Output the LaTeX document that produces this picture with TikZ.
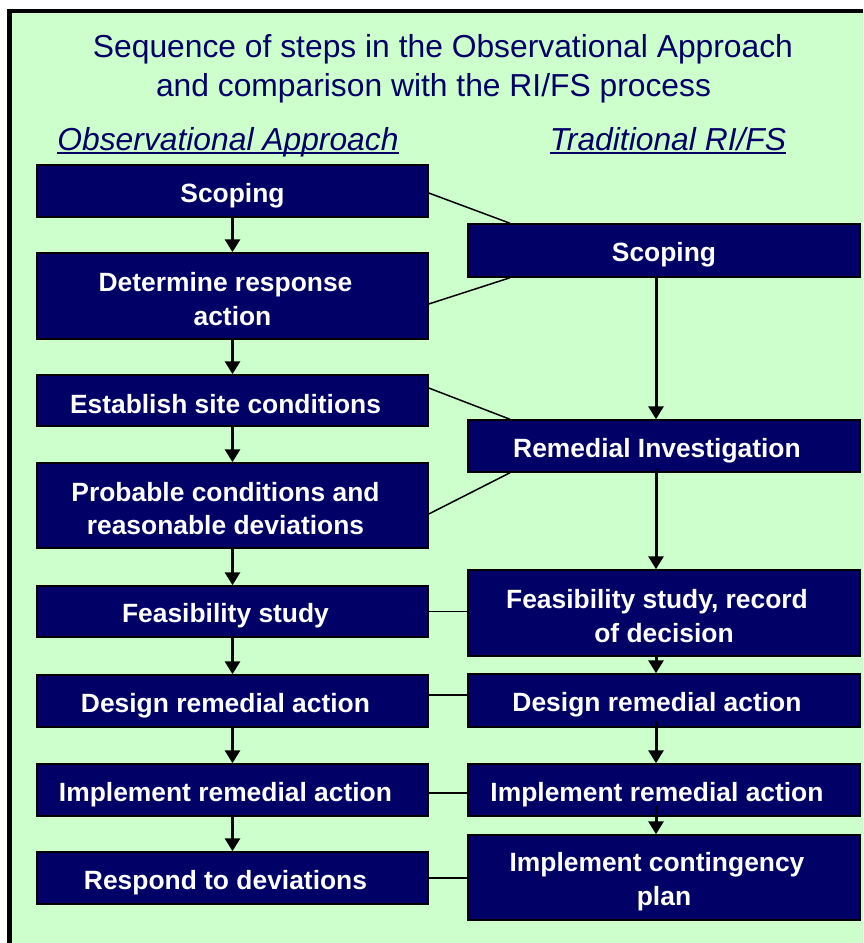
\documentclass[tikz,border=0pt]{standalone}
\usepackage{fontspec}
\setmainfont{Liberation Sans}
\usetikzlibrary{arrows.meta}

\definecolor{navy}{RGB}{0,0,102}
\definecolor{panel}{RGB}{204,255,204}
\newcommand{\boxstrut}{\rule[-0.1em]{0pt}{1.15em}}
\newcommand{\tallstrut}{\rule[-0.1em]{0pt}{63.6pt}}
\newcommand{\trail}{\hspace*{14pt}}

\begin{document}
\begin{tikzpicture}[x=1pt, y=-1pt]
  \tikzstyle{stepbox}=[draw=black, line width=1.5pt, fill=navy, text=white, inner sep=0pt,
                       align=center, font=\fontsize{26.4}{33.5}\selectfont\bfseries,
                       execute at begin node=\boxstrut, execute at end node=\boxstrut]
  \tikzstyle{two lines}=[execute at begin node=\tallstrut]
  \tikzstyle{left col}=[stepbox, minimum width=391pt]
  \tikzstyle{right col}=[stepbox, minimum width=392pt]
  \tikzstyle{flow}=[line width=3pt, -{Triangle[width=15pt,length=13pt]}]
  \tikzstyle{link}=[line width=1.5pt]
  \tikzstyle{heading}=[text=navy, inner sep=0pt, font=\fontsize{31.8}{39}\selectfont]
  \tikzstyle{rule}=[navy, line width=2pt]

  \useasboundingbox (0,0) rectangle (863,943);
  \fill[white] (0,0) rectangle (863,943);
  \fill[black] (7,9) rectangle (863,943);
  \fill[panel] (12,13) rectangle (863,943);

  \node[heading, align=center] (title) at (443,68.5)
    {Sequence of steps in the Observational Approach\\and comparison with the RI/FS process\hspace*{19pt}};
  \node[heading, anchor=base, font=\fontsize{31.8}{39}\selectfont\itshape] (oahead) at (228,150)
    {Observational Approach};
  \node[heading, anchor=base, font=\fontsize{31.8}{39}\selectfont\itshape] (rfhead) at (668,150)
    {Traditional RI/FS};
  \draw[rule] ([yshift=-3pt]oahead.base west) -- ([yshift=-3pt]oahead.base east);
  \draw[rule] ([yshift=-3pt]rfhead.base west) -- ([yshift=-3pt]rfhead.base east);

  % observational approach
  \node[left col, minimum height=52pt] (oa1) at (232.5,191)   {Scoping};
  \node[left col, two lines, minimum height=86pt] (oa2) at (232.5,296) {Determine response\trail\\action};
  \node[left col, minimum height=51pt] (oa3) at (232.5,400.5) {Establish site conditions\trail};
  \node[left col, two lines, minimum height=85pt] (oa4) at (232.5,505.5) {Probable conditions and\trail\\reasonable deviations\trail};
  \node[left col, minimum height=51pt] (oa5) at (232.5,611.5) {Feasibility study\trail};
  \node[left col, minimum height=52pt] (oa6) at (232.5,701)   {Design remedial action\trail};
  \node[left col, minimum height=52pt] (oa7) at (232.5,790)   {Implement remedial action\trail};
  \node[left col, minimum height=52pt] (oa8) at (232.5,878)   {Respond to deviations\trail};

  % traditional RI/FS
  \node[right col, minimum height=53pt] (rf1) at (664,250.5) {Scoping};
  \node[right col, minimum height=52pt] (rf2) at (664,446)   {Remedial Investigation\trail};
  \node[right col, two lines, minimum height=86pt] (rf3) at (664,613) {Feasibility study, record\trail\\of decision};
  \node[right col, minimum height=53pt] (rf4) at (664,700.5) {Design remedial action\trail};
  \node[right col, minimum height=52pt] (rf5) at (664,790)   {Implement remedial action\trail};
  \node[right col, two lines, minimum height=85pt] (rf6) at (664,877.5) {Implement contingency\trail\\plan};

  \coordinate (rcol) at (656,0);
  \coordinate (rlink) at (510,0);

  \foreach \a/\b in {1/2,2/3,3/4,4/5,5/6,6/7,7/8}
    \draw[flow] (oa\a) -- (oa\b);
  \foreach \a/\b/\o in {1/2/0,2/3/4,3/4/0,4/5/7,5/6/11}
    \draw[flow, shorten <=-\o pt] (rf\a.south -| rcol) -- (rf\b.north -| rcol);

  % links between the two columns
  \draw[link] ([yshift=-2pt]oa1.east) -- (rf1.north -| rlink);
  \draw[link] ([yshift=-8pt]oa2.east) -- (rf1.south -| rlink);
  \draw[link] ([yshift=12.5pt]oa3.east) -- (rf2.north -| rlink);
  \draw[link] ([yshift=-8.5pt]oa4.east) -- (rf2.south -| rlink);
  \draw[link] (oa5.east) -- (oa5.east -| rf3.west);
  \draw[link] ([yshift=6pt]oa6.east) -- ([yshift=6pt]oa6.east -| rf4.west);
  \draw[link] ([yshift=-3pt]oa7.east) -- ([yshift=-3pt]oa7.east -| rf5.west);
  \draw[link] (oa8.east) -- (oa8.east -| rf6.west);
\end{tikzpicture}
\end{document}
